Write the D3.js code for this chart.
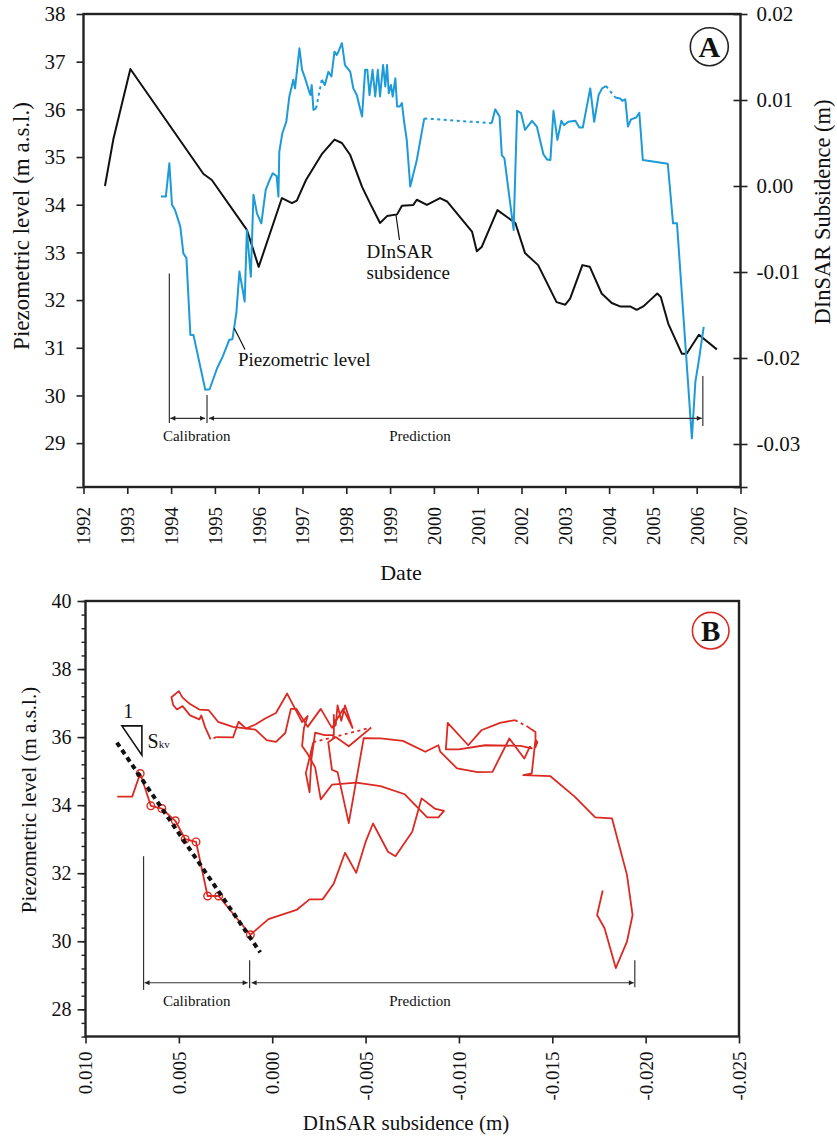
<!DOCTYPE html>
<html>
<head>
<meta charset="utf-8">
<script src="https://cdn.jsdelivr.net/npm/d3@7"></script>
<style>
  body { margin: 0; background: #fff; }
  svg text { font-family: "Liberation Serif", "Times New Roman", serif; fill: #111; }
</style>
</head>
<body>
<svg id="chart" width="837" height="1137"></svg>
<script>
// ---- Panel A: piezometric level (left axis) [year, m a.s.l., dottedBefore]
const piezoSeries = [
  [1993.77, 34.17], [1993.88, 34.17], [1993.96, 34.87], [1994.02, 34.00], [1994.09, 33.89],
  [1994.21, 33.54], [1994.28, 32.98], [1994.35, 32.88], [1994.44, 31.27], [1994.51, 31.27],
  [1994.78, 30.12], [1994.88, 30.13], [1995.05, 30.57], [1995.18, 30.82], [1995.33, 31.17],
  [1995.40, 31.18], [1995.49, 31.73], [1995.56, 32.60], [1995.68, 31.97], [1995.73, 33.47],
  [1995.82, 32.49], [1995.88, 34.21], [1995.96, 33.82], [1996.06, 33.61], [1996.16, 34.31],
  [1996.25, 34.52], [1996.32, 34.66], [1996.41, 34.60], [1996.45, 34.17], [1996.47, 35.11],
  [1996.54, 35.50], [1996.63, 35.74], [1996.70, 36.27], [1996.79, 36.62], [1996.83, 36.44],
  [1996.93, 37.28], [1996.99, 36.83], [1997.06, 36.65], [1997.14, 36.41], [1997.18, 36.30],
  [1997.21, 36.51], [1997.25, 35.99], [1997.31, 36.02],
  [1997.44, 36.62, 1], [1997.51, 36.51], [1997.59, 36.79], [1997.66, 36.69], [1997.73, 37.21],
  [1997.78, 37.14], [1997.82, 37.21], [1997.90, 37.39], [1997.97, 36.93], [1998.09, 36.79],
  [1998.16, 36.44], [1998.24, 36.30], [1998.32, 35.99], [1998.36, 35.85], [1998.43, 36.83],
  [1998.48, 36.83], [1998.53, 36.30], [1998.60, 36.83], [1998.66, 36.27], [1998.72, 36.83],
  [1998.77, 36.27], [1998.84, 36.93], [1998.89, 36.48], [1998.93, 36.93], [1998.97, 36.34],
  [1999.02, 36.51], [1999.06, 36.27], [1999.12, 36.65], [1999.16, 36.06], [1999.22, 36.06],
  [1999.27, 36.13], [1999.32, 35.74], [1999.38, 35.36], [1999.46, 34.38], [1999.61, 34.94],
  [1999.78, 35.81],
  [2001.32, 35.71, 1], [2001.40, 36.00], [2001.50, 35.85], [2001.55, 35.04], [2001.61, 34.97],
  [2001.82, 33.47], [2001.90, 35.97], [2001.99, 35.92], [2002.08, 35.57], [2002.24, 35.76],
  [2002.35, 35.64], [2002.50, 35.06], [2002.58, 34.95], [2002.66, 34.94], [2002.73, 35.97],
  [2002.82, 35.36], [2002.91, 35.76], [2002.97, 35.67], [2003.07, 35.74], [2003.23, 35.76],
  [2003.32, 35.62], [2003.40, 35.62], [2003.57, 36.44], [2003.66, 35.74], [2003.76, 36.30],
  [2003.84, 36.44], [2003.93, 36.49],
  [2004.14, 36.25, 1], [2004.25, 36.23], [2004.30, 36.18], [2004.37, 36.21], [2004.43, 35.64],
  [2004.50, 35.79], [2004.62, 35.83], [2004.69, 35.93], [2004.77, 34.94], [2005.34, 34.86],
  [2005.46, 33.61], [2005.55, 33.61], [2005.89, 29.10], [2005.97, 30.29], [2006.04, 30.68],
  [2006.16, 31.44]
];

// ---- Panel A: DInSAR subsidence (right axis) [year, m]
const dinsarSeries = [
  [1992.49, 0.0000], [1992.68, 0.0054], [1993.07, 0.0136], [1994.74, 0.0014], [1994.93, 0.0007],
  [1995.73, -0.0051], [1996.00, -0.0094], [1996.53, -0.0014], [1996.76, -0.0020], [1996.87, -0.0017],
  [1997.08, 0.0007], [1997.44, 0.0037], [1997.73, 0.0054], [1997.90, 0.0050], [1998.09, 0.0036],
  [1998.36, -0.0001], [1998.56, -0.0022], [1998.77, -0.0043], [1998.93, -0.0035], [1999.16, -0.0033],
  [1999.27, -0.0023], [1999.53, -0.0022], [1999.61, -0.0016], [1999.84, -0.0022], [2000.14, -0.0014],
  [2000.30, -0.0018], [2000.87, -0.0053], [2000.98, -0.0076], [2001.09, -0.0071], [2001.45, -0.0028],
  [2001.86, -0.0043], [2002.08, -0.0078], [2002.38, -0.0092], [2002.80, -0.0135], [2003.00, -0.0138],
  [2003.11, -0.0131], [2003.39, -0.0092], [2003.56, -0.0094], [2003.83, -0.0125], [2004.06, -0.0136],
  [2004.25, -0.0140], [2004.48, -0.0140], [2004.63, -0.0144], [2004.78, -0.0140], [2004.93, -0.0133],
  [2005.10, -0.0125], [2005.18, -0.0129], [2005.35, -0.0160], [2005.66, -0.0195], [2005.77, -0.0195],
  [2006.05, -0.0173], [2006.46, -0.0190]
];

// ---- Panel B: piezometric level vs DInSAR subsidence [m, m a.s.l., dottedBefore]
const scatterSeries = [
  [0.0083, 34.25], [0.0075, 34.25], [0.00707, 34.93], [0.0065, 33.98], [0.00591, 33.90],
  [0.00519, 33.54], [0.00466, 33.00], [0.00408, 32.92], [0.00346, 31.33], [0.00287, 31.33],
  [0.00117, 30.19], [0.0002, 30.65], [-0.0013, 30.92], [-0.0020, 31.23], [-0.0027, 31.23],
  [-0.0033, 31.70], [-0.0039, 32.60], [-0.0045, 32.01], [-0.0050, 32.92], [-0.0054, 33.46],
  [-0.0062, 32.63], [-0.0066, 32.50], [-0.0075, 33.22], [-0.0080, 34.20], [-0.0087, 33.90],
  [-0.0092, 33.83], [-0.0089, 33.64], [-0.0083, 33.64], [-0.0071, 34.32], [-0.0058, 34.56],
  [-0.0045, 34.66], [-0.0032, 34.60], [-0.0026, 34.17], [-0.0023, 35.11], [-0.0019, 35.50],
  [-0.0016, 35.74], [-0.0017, 36.27], [-0.0019, 36.62], [-0.0016, 36.44], [-0.0008, 37.28],
  [-0.0002, 36.71], [0.0004, 36.54], [0.0009, 36.37], [0.0014, 36.25], [0.0018, 36.45],
  [0.0021, 35.99], [0.0030, 36.00],
  [0.0033, 35.93, 1], [0.0036, 36.30], [0.0038, 36.64], [0.0039, 36.52], [0.0044, 36.64],
  [0.0048, 36.91], [0.0051, 36.81], [0.0053, 36.94], [0.0054, 37.17], [0.0050, 37.35],
  [0.0048, 37.16], [0.0044, 36.97], [0.0039, 36.81], [0.0034, 36.79], [0.0029, 36.45],
  [0.0021, 36.30], [0.0009, 36.22], [0.0003, 35.91], [-0.0002, 35.86], [-0.0007, 36.12],
  [-0.0010, 36.83], [-0.0013, 36.83], [-0.0019, 36.30], [-0.0026, 36.83], [-0.0032, 36.27],
  [-0.0038, 36.83], [-0.0043, 36.27], [-0.0039, 36.93], [-0.0037, 36.48], [-0.0035, 36.93],
  [-0.0034, 36.34], [-0.0034, 36.51], [-0.0033, 36.27], [-0.0033, 36.65], [-0.0033, 36.06],
  [-0.0028, 36.06], [-0.0023, 36.13], [-0.0022, 35.74], [-0.0021, 35.36], [-0.0020, 34.38],
  [-0.0018, 34.94], [-0.0022, 35.85],
  [-0.0053, 36.28, 1], [-0.0041, 35.73], [-0.0034, 36.00], [-0.0030, 35.85], [-0.0032, 35.04],
  [-0.0035, 34.97], [-0.0041, 33.47], [-0.0049, 35.97], [-0.0058, 35.96], [-0.0070, 35.89],
  [-0.0082, 35.57], [-0.0089, 35.76], [-0.0090, 35.57], [-0.0099, 35.08], [-0.0110, 34.97],
  [-0.0118, 34.98], [-0.0127, 35.96], [-0.0135, 35.37], [-0.0138, 35.72], [-0.0139, 35.67],
  [-0.0133, 35.74], [-0.0114, 35.76], [-0.0100, 35.64], [-0.0093, 35.64], [-0.0094, 36.42],
  [-0.0105, 35.76], [-0.0112, 36.20], [-0.0122, 36.42], [-0.0130, 36.50],
  [-0.0137, 36.30, 1], [-0.0139, 36.22], [-0.0141, 36.15], [-0.0141, 35.70], [-0.0142, 35.85],
  [-0.0141, 35.93], [-0.0139, 34.93], [-0.01345, 34.88], [-0.0149, 34.85], [-0.0162, 34.25],
  [-0.0173, 33.64], [-0.0182, 33.61], [-0.0190, 31.95], [-0.0193, 30.77], [-0.0190, 29.99],
  [-0.0184, 29.21], [-0.0178, 30.38], [-0.0174, 30.77], [-0.0177, 31.49]
];
const calibPointIdx = [2, 3, 4, 5, 6, 7, 8, 9, 10];
// fitted slope line (Skv)
const fitLine = [[0.00832, 35.84], [0.00064, 29.67]];

// ---- ticks
const yearTicks = d3.range(1992, 2008);
const piezoTicksA = d3.range(29, 39);
const subsTicksA = [-0.03, -0.02, -0.01, 0.00, 0.01, 0.02];
const subsTicksB = [0.010, 0.005, 0.000, -0.005, -0.010, -0.015, -0.020, -0.025];
const piezoTicksB = [28, 30, 32, 34, 36, 38, 40];

// ---- calibration / prediction periods
const periodYears = [1993.96, 1994.82, 2006.14];
const periodSubs = [0.00689, 0.00121, -0.01942];

const svg = d3.select("#chart");
const BLUE = "#1d9ad8", RED = "#dc2a22", INK = "#111", FRAME = "#222";
// plain hyphen for negative numbers, as in the figure
const hyph = f => d => f(d).replace("\u2212", "-");

// arrow markers
const defs = svg.append("defs");
["start", "end"].forEach(k => {
  defs.append("marker")
    .attr("id", "arr-" + k)
    .attr("viewBox", "0 0 10 10")
    .attr("refX", k === "end" ? 10 : 0).attr("refY", 5)
    .attr("markerWidth", 6).attr("markerHeight", 5)
    .attr("markerUnits", "userSpaceOnUse")
    .attr("orient", "auto")
    .append("path")
    .attr("d", k === "end" ? "M0,0L10,5L0,10Z" : "M10,0L0,5L10,10Z")
    .attr("fill", "#222");
});

function drawSeries(g, pts, x, y, color, width) {
  const runs = [[]], dotted = [];
  pts.forEach((p, i) => {
    if (p[2] && i > 0) { dotted.push([pts[i - 1], p]); runs.push([]); }
    runs[runs.length - 1].push(p);
  });
  const line = d3.line().x(d => x(d[0])).y(d => y(d[1]));
  g.append("g").selectAll("path").data(runs).join("path")
    .attr("d", line).attr("fill", "none").attr("stroke", color)
    .attr("stroke-width", width).attr("stroke-linejoin", "round");
  g.append("g").selectAll("path").data(dotted).join("path")
    .attr("d", line).attr("fill", "none").attr("stroke", color)
    .attr("stroke-width", width).attr("stroke-dasharray", "3,3.5");
}

// ================= PANEL A =================
const A = { l: 83.5, r: 740.5, t: 14, b: 487 };
const xA = d3.scaleLinear([1992, 2007], [A.l, A.r]);
const yAL = d3.scaleLinear([28.08, 38], [A.b, A.t]);
const yAR = d3.scaleLinear([-0.035, 0.02], [A.b, A.t]);
const gA = svg.append("g");

// left axis
const axAL = gA.append("g").attr("transform", `translate(${A.l},0)`)
  .call(d3.axisLeft(yAL).tickValues([28.08, ...piezoTicksA]).tickSize(7).tickPadding(11)
    .tickFormat(d => Number.isInteger(d) ? d : ""));
axAL.select(".domain").remove();
axAL.selectAll("line").attr("stroke", FRAME).attr("stroke-width", 1.6);
axAL.selectAll("text").attr("font-size", 21).attr("fill", INK);

// right axis (ticks across the frame)
const axAR = gA.append("g").attr("transform", `translate(${A.r},0)`)
  .call(d3.axisRight(yAR).tickValues([-0.035, ...subsTicksA]).tickSize(7).tickPadding(9)
    .tickFormat(d => d === -0.035 ? "" : hyph(d3.format(".2f"))(d)));
axAR.select(".domain").remove();
axAR.selectAll("line").attr("x1", -7).attr("stroke", FRAME).attr("stroke-width", 1.6);
axAR.selectAll("text").attr("font-size", 21).attr("fill", INK);

// bottom axis
const axAB = gA.append("g").attr("transform", `translate(0,${A.b})`)
  .call(d3.axisBottom(xA).tickValues(yearTicks).tickSize(7).tickFormat(d3.format("d")));
axAB.select(".domain").remove();
axAB.selectAll("line").attr("stroke", FRAME).attr("stroke-width", 1.6);
axAB.selectAll("text").attr("font-size", 19).attr("fill", INK)
  .attr("transform", "rotate(-90)").attr("text-anchor", "end")
  .attr("x", -20).attr("y", 0).attr("dy", "0.34em");

gA.append("rect").attr("x", A.l).attr("y", A.t).attr("width", A.r - A.l).attr("height", A.b - A.t)
  .attr("fill", "none").attr("stroke", FRAME).attr("stroke-width", 2.4);

// series
drawSeries(gA, dinsarSeries, xA, yAR, INK, 2);
drawSeries(gA, piezoSeries, xA, yAL, BLUE, 2);

// calibration / prediction markers
const markA = gA.append("g").attr("stroke", "#333").attr("stroke-width", 1.2);
const arrowLevelA = 29.52, markBottomA = 29.42;
[[periodYears[0], 32.56], [periodYears[1], 30.01], [periodYears[2], 30.41]].forEach(([yr, top]) => {
  markA.append("line").attr("x1", xA(yr)).attr("x2", xA(yr))
    .attr("y1", yAL(top)).attr("y2", yAL(markBottomA) + (yr === periodYears[2] ? 3 : 0));
});
markA.append("line").attr("x1", xA(periodYears[0]) + 1).attr("x2", xA(periodYears[1]) - 2)
  .attr("y1", yAL(arrowLevelA)).attr("y2", yAL(arrowLevelA))
  .attr("marker-start", "url(#arr-start)").attr("marker-end", "url(#arr-end)");
markA.append("line").attr("x1", xA(periodYears[1]) + 2).attr("x2", xA(periodYears[2]) - 1)
  .attr("y1", yAL(arrowLevelA)).attr("y2", yAL(arrowLevelA))
  .attr("marker-start", "url(#arr-start)").attr("marker-end", "url(#arr-end)");
gA.append("text").attr("x", 196.7).attr("y", 440.5).attr("text-anchor", "middle")
  .attr("font-size", 15).attr("fill", "#333").text("Calibration");
gA.append("text").attr("x", 420).attr("y", 440.5).attr("text-anchor", "middle")
  .attr("font-size", 15).attr("fill", "#333").text("Prediction");

// curve labels
gA.append("line").attr("x1", 234.3).attr("y1", 328.3).attr("x2", 245).attr("y2", 349.5)
  .attr("stroke", INK).attr("stroke-width", 1.2);
gA.append("text").attr("x", 238).attr("y", 366).attr("font-size", 19).text("Piezometric level");
gA.append("line").attr("x1", 396).attr("y1", 215).attr("x2", 399.5).attr("y2", 240)
  .attr("stroke", INK).attr("stroke-width", 1.2);
gA.append("text").attr("x", 366.5).attr("y", 258).attr("font-size", 19).text("DInSAR");
gA.append("text").attr("x", 366.5).attr("y", 279).attr("font-size", 19).text("subsidence");

// axis titles
gA.append("text").attr("transform", "translate(29,226) rotate(-90)").attr("text-anchor", "middle")
  .attr("font-size", 23).text("Piezometric level (m a.s.l.)");
gA.append("text").attr("transform", "translate(830,212) rotate(-90)").attr("text-anchor", "middle")
  .attr("font-size", 22.5).text("DInSAR Subsidence (m)");
gA.append("text").attr("x", 401).attr("y", 580).attr("text-anchor", "middle")
  .attr("font-size", 22).text("Date");

// panel badge
gA.append("circle").attr("cx", 709.3).attr("cy", 46.7).attr("r", 19)
  .attr("fill", "#fff").attr("stroke", FRAME).attr("stroke-width", 1.6);
gA.append("text").attr("x", 709.3).attr("y", 46.7).attr("dy", "0.35em").attr("text-anchor", "middle")
  .attr("font-size", 30).attr("font-weight", "bold").text("A");

// ================= PANEL B =================
const B = { l: 85.5, r: 739, t: 601, b: 1036.5 };
const xB = d3.scaleLinear([0.010, -0.025], [B.l, B.r]);
const yB = d3.scaleLinear([27.2, 40], [B.b, B.t]);
const gB = svg.append("g");

const minorB = d3.range(0, 33).map(i => +(27.2 + i * 0.4).toFixed(1));
const axBLminor = gB.append("g").attr("transform", `translate(${B.l},0)`)
  .call(d3.axisLeft(yB).tickValues(minorB).tickSize(4).tickFormat(""));
axBLminor.select(".domain").remove();
axBLminor.selectAll("line").attr("stroke", FRAME).attr("stroke-width", 1.4);
const axBL = gB.append("g").attr("transform", `translate(${B.l},0)`)
  .call(d3.axisLeft(yB).tickValues(piezoTicksB).tickSize(8).tickPadding(6).tickFormat(d3.format("d")));
axBL.select(".domain").remove();
axBL.selectAll("line").attr("stroke", FRAME).attr("stroke-width", 1.6);
axBL.selectAll("text").attr("font-size", 20).attr("fill", INK);

const axBB = gB.append("g").attr("transform", `translate(0,${B.b})`)
  .call(d3.axisBottom(xB).tickValues(subsTicksB).tickSize(7).tickFormat(hyph(d3.format(".3f"))));
axBB.select(".domain").remove();
axBB.selectAll("line").attr("stroke", FRAME).attr("stroke-width", 1.6);
axBB.selectAll("text").attr("font-size", 19).attr("fill", INK)
  .attr("transform", "rotate(-90)").attr("text-anchor", "end")
  .attr("x", -15).attr("y", 0).attr("dy", "0.34em");

gB.append("rect").attr("x", B.l).attr("y", B.t).attr("width", B.r - B.l).attr("height", B.b - B.t)
  .attr("fill", "none").attr("stroke", FRAME).attr("stroke-width", 2.4);

// calibration / prediction markers
const markB = gB.append("g").attr("stroke", "#333").attr("stroke-width", 1.2);
const arrowLevelB = 28.78;
[[periodSubs[0], 32.50, 28.57], [periodSubs[1], 29.44, 28.62], [periodSubs[2], 29.44, 28.65]].forEach(([s, top, bot]) => {
  markB.append("line").attr("x1", xB(s)).attr("x2", xB(s)).attr("y1", yB(top)).attr("y2", yB(bot));
});
markB.append("line").attr("x1", xB(periodSubs[0]) + 1).attr("x2", xB(periodSubs[1]) - 2)
  .attr("y1", yB(arrowLevelB)).attr("y2", yB(arrowLevelB))
  .attr("marker-start", "url(#arr-start)").attr("marker-end", "url(#arr-end)");
markB.append("line").attr("x1", xB(periodSubs[1]) + 2).attr("x2", xB(periodSubs[2]) - 1)
  .attr("y1", yB(arrowLevelB)).attr("y2", yB(arrowLevelB))
  .attr("marker-start", "url(#arr-start)").attr("marker-end", "url(#arr-end)");
gB.append("text").attr("x", 196.7).attr("y", 1005.5).attr("text-anchor", "middle")
  .attr("font-size", 15).attr("fill", "#333").text("Calibration");
gB.append("text").attr("x", 420).attr("y", 1005.5).attr("text-anchor", "middle")
  .attr("font-size", 15).attr("fill", "#333").text("Prediction");

// red trajectory
drawSeries(gB, scatterSeries, xB, yB, RED, 1.8);
gB.append("g").selectAll("circle").data(calibPointIdx.map(i => scatterSeries[i])).join("circle")
  .attr("cx", d => xB(d[0])).attr("cy", d => yB(d[1])).attr("r", 3.8)
  .attr("fill", "#fff").attr("fill-opacity", 0).attr("stroke", RED).attr("stroke-width", 1.4);

// fitted slope
gB.append("path").attr("d", d3.line().x(d => xB(d[0])).y(d => yB(d[1]))(fitLine))
  .attr("stroke", INK).attr("stroke-width", 4).attr("stroke-dasharray", "5,4").attr("fill", "none");

// slope triangle
const tri = [[0.00805, 36.33], [0.00698, 36.33], [0.00698, 35.47]];
gB.append("path").attr("d", d3.line().x(d => xB(d[0])).y(d => yB(d[1]))(tri) + "Z")
  .attr("fill", "none").attr("stroke", INK).attr("stroke-width", 1.6);
gB.append("text").attr("x", 128.3).attr("y", 718).attr("text-anchor", "middle").attr("font-size", 20).text("1");
const sk = gB.append("text").attr("x", 147.5).attr("y", 748).attr("font-size", 20);
sk.append("tspan").text("S");
sk.append("tspan").attr("font-size", 11).text("kv");

// axis titles
gB.append("text").attr("transform", "translate(36,800) rotate(-90)").attr("text-anchor", "middle")
  .attr("font-size", 21).text("Piezometric level (m a.s.l.)");
gB.append("text").attr("x", 406).attr("y", 1130).attr("text-anchor", "middle")
  .attr("font-size", 21).text("DInSAR subsidence (m)");

// panel badge
gB.append("circle").attr("cx", 710.7).attr("cy", 630.7).attr("r", 18.3)
  .attr("fill", "#fff").attr("stroke", RED).attr("stroke-width", 1.6);
gB.append("text").attr("x", 710.7).attr("y", 630.7).attr("dy", "0.35em").attr("text-anchor", "middle")
  .attr("font-size", 29).attr("font-weight", "bold").text("B");
</script>
</body>
</html>
